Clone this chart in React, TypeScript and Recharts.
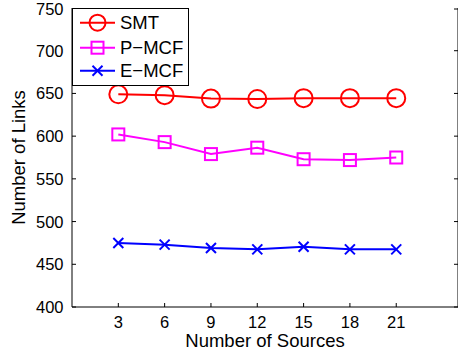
import React from 'react';
import { LineChart, Line, XAxis, YAxis, Legend } from 'recharts';

const sources = [3, 6, 9, 12, 15, 18, 21];
const smt = [649, 648, 644, 643.5, 644.5, 644.5, 644.5];
const pmcf = [602, 593, 579, 586.5, 573, 572, 575];
const emcf = [475, 473, 469, 467.5, 470.5, 467.5, 467.5];
const xTicks = [3, 6, 9, 12, 15, 18, 21];
const yTicks = [400, 450, 500, 550, 600, 650, 700, 750];

const data = sources.map((s, i) => ({ x: s, smt: smt[i], pmcf: pmcf[i], emcf: emcf[i] }));

const FONT = '"Liberation Sans", Arial, sans-serif';
const RED = '#ff0000';
const MAG = '#ff00ff';
const BLUE = '#0000ff';
const TL = 4;

const CircleDot = (p: any) => {
  if (p.cx == null || p.cy == null) return null;
  return <circle key={p.index} cx={p.cx} cy={p.cy} r={9} fill="none" stroke={RED} strokeWidth={2} />;
};
const SquareDot = (p: any) => {
  if (p.cx == null || p.cy == null) return null;
  return <rect key={p.index} x={p.cx - 6} y={p.cy - 6} width={12} height={12} fill="none" stroke={MAG} strokeWidth={2} />;
};
const CrossDot = (p: any) => {
  if (p.cx == null || p.cy == null) return null;
  return (
    <g key={p.index}>
      <line x1={p.cx - 5} y1={p.cy - 5} x2={p.cx + 5} y2={p.cy + 5} stroke={BLUE} strokeWidth={2} />
      <line x1={p.cx - 5} y1={p.cy + 5} x2={p.cx + 5} y2={p.cy - 5} stroke={BLUE} strokeWidth={2} />
    </g>
  );
};

const BottomTick = (p: any) => (
  <g>
    <line x1={p.x} y1={p.y} x2={p.x} y2={p.y - TL} stroke="#000" strokeWidth={1} />
    <text x={p.x} y={p.y + 21} textAnchor="middle" fontFamily={FONT} fontSize={16.5} fill="#000">
      {p.payload.value}
    </text>
  </g>
);
const TopTick = (p: any) => (
  <line x1={p.x} y1={p.y} x2={p.x} y2={p.y + TL} stroke="#000" strokeWidth={1} />
);
const LeftTick = (p: any) => (
  <g>
    <line x1={p.x} y1={p.y} x2={p.x + TL} y2={p.y} stroke="#000" strokeWidth={1} />
    <text x={p.x - 8.5} y={p.y + 6} textAnchor="end" fontFamily={FONT} fontSize={16.5} fill="#000">
      {p.payload.value}
    </text>
  </g>
);
const RightTick = (p: any) => (
  <line x1={p.x} y1={p.y} x2={p.x - TL} y2={p.y} stroke="#000" strokeWidth={1} />
);

const legendItems = [
  { name: 'SMT', color: RED, kind: 'circle' },
  { name: 'P\u2212MCF', color: MAG, kind: 'square' },
  { name: 'E\u2212MCF', color: BLUE, kind: 'cross' },
];

const renderLegend = () => {
  const ys = [14.7, 39.7, 62.7];
  return (
    <svg width={117} height={78} style={{ display: 'block' }}>
      <rect x={0.5} y={0.5} width={116} height={77} fill="#fff" stroke="#000" strokeWidth={1} />
      {legendItems.map((it, i) => {
        const y = ys[i];
        const cx = 25.5;
        return (
          <g key={it.name}>
            <line x1={8} y1={y} x2={43} y2={y} stroke={it.color} strokeWidth={2} />
            {it.kind === 'circle' && <circle cx={cx} cy={y} r={8} fill="none" stroke={it.color} strokeWidth={2} />}
            {it.kind === 'square' && <rect x={cx - 6} y={y - 6} width={12} height={12} fill="none" stroke={it.color} strokeWidth={2} />}
            {it.kind === 'cross' && (
              <g>
                <line x1={cx - 5} y1={y - 5} x2={cx + 5} y2={y + 5} stroke={it.color} strokeWidth={2} />
                <line x1={cx - 5} y1={y + 5} x2={cx + 5} y2={y - 5} stroke={it.color} strokeWidth={2} />
              </g>
            )}
            <text x={48} y={y + 6.5} fontFamily={FONT} fontSize={18.5} fill="#000">
              {it.name}
            </text>
          </g>
        );
      })}
    </svg>
  );
};

const XLabel = (p: any) => {
  const vb = p.viewBox;
  return (
    <text x={vb.x + vb.width / 2} y={347} textAnchor="middle" fontFamily={FONT} fontSize={18.5} fill="#000">
      Number of Sources
    </text>
  );
};
const YLabel = (p: any) => {
  const vb = p.viewBox;
  const cy = vb.y + vb.height / 2;
  return (
    <text x={25} y={cy} transform={`rotate(-90 25 ${cy})`} textAnchor="middle" fontFamily={FONT} fontSize={18.5} fill="#000">
      Number of Links
    </text>
  );
};

export default function App() {
  return (
    <div style={{ position: 'absolute', left: 0, top: 0, width: 458, height: 356, overflow: 'hidden', background: '#fff' }}>
      <LineChart width={462} height={356} data={data} margin={{ top: 8, right: 0, bottom: 0, left: 0 }}>
        <XAxis
          xAxisId="bottom"
          dataKey="x"
          type="number"
          domain={[0, 25]}
          ticks={xTicks}
          allowDataOverflow
          height={49}
          tickSize={0}
          tickMargin={0}
          tickLine={false}
          tick={<BottomTick />}
          axisLine={{ stroke: '#000', strokeWidth: 1 }}
          label={<XLabel />}
        />
        <XAxis
          xAxisId="top"
          orientation="top"
          dataKey="x"
          type="number"
          domain={[0, 25]}
          ticks={xTicks}
          allowDataOverflow
          height={0}
          tickSize={0}
          tickMargin={0}
          tickLine={false}
          tick={<TopTick />}
          axisLine={{ stroke: '#000', strokeWidth: 1 }}
        />
        <YAxis
          yAxisId="left"
          type="number"
          domain={[400, 750]}
          ticks={yTicks}
          allowDataOverflow
          width={72}
          tickSize={0}
          tickMargin={0}
          tickLine={false}
          tick={<LeftTick />}
          axisLine={{ stroke: '#000', strokeWidth: 1 }}
          label={<YLabel />}
        />
        <YAxis
          yAxisId="right"
          orientation="right"
          type="number"
          domain={[400, 750]}
          ticks={yTicks}
          allowDataOverflow
          width={4}
          tickSize={0}
          tickMargin={0}
          tickLine={false}
          tick={<RightTick />}
          axisLine={{ stroke: '#000', strokeWidth: 1 }}
        />
        <Line xAxisId="bottom" yAxisId="left" dataKey="smt" name="SMT" stroke={RED} strokeWidth={2} dot={<CircleDot />} activeDot={false} isAnimationActive={false} />
        <Line xAxisId="bottom" yAxisId="left" dataKey="pmcf" name="P-MCF" stroke={MAG} strokeWidth={2} dot={<SquareDot />} activeDot={false} isAnimationActive={false} />
        <Line xAxisId="bottom" yAxisId="left" dataKey="emcf" name="E-MCF" stroke={BLUE} strokeWidth={2} dot={<CrossDot />} activeDot={false} isAnimationActive={false} />
        <Line xAxisId="top" yAxisId="right" dataKey="smt" stroke="none" dot={false} activeDot={false} legendType="none" isAnimationActive={false} />
        <Legend
          layout="vertical"
          align="center"
          verticalAlign="middle"
          content={renderLegend}
          wrapperStyle={{ left: 72, top: 8, width: 117, height: 78 }}
        />
      </LineChart>
    </div>
  );
}
